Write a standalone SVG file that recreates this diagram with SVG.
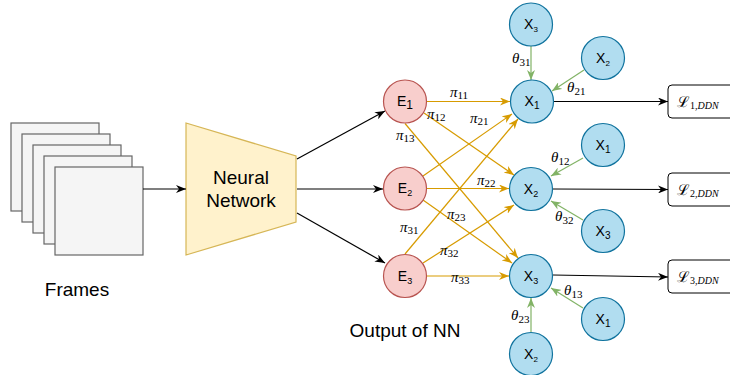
<svg xmlns="http://www.w3.org/2000/svg" width="730" height="375" viewBox="0 0 730 375">
<style>
.frame{fill:#f5f5f5;stroke:#666666;stroke-width:1.2}
.nn{fill:#fff2cc;stroke:#d6b656;stroke-width:1.2}
.e{fill:#f8cecc;stroke:#b85450;stroke-width:1.2}
.x{fill:#b1ddf0;stroke:#10739e;stroke-width:1.2}
.loss{fill:#ffffff;stroke:#000000;stroke-width:1}
.lbl{font-family:"Liberation Sans",Arial,sans-serif;fill:#000}
.math{font-family:"Liberation Serif","DejaVu Serif",serif;font-style:italic;fill:#000;font-size:15px}
.sub{font-size:11px;font-style:normal}
.blk{stroke:#000;stroke-width:1.2;fill:none}
.org{stroke:#d79b00;stroke-width:1.2;fill:none}
.grn{stroke:#82b366;stroke-width:1.2;fill:none}
</style>
<defs>
<marker id="ab" viewBox="0 0 10 8" refX="10" refY="4" markerWidth="10" markerHeight="8" markerUnits="userSpaceOnUse" orient="auto"><path d="M0,0 L10,4 L0,8 L3,4 z" fill="#000"/></marker>
<marker id="ao" viewBox="0 0 10 8" refX="10" refY="4" markerWidth="10" markerHeight="8" markerUnits="userSpaceOnUse" orient="auto"><path d="M0,0 L10,4 L0,8 L3,4 z" fill="#d79b00"/></marker>
<marker id="ag" viewBox="0 0 10 8" refX="10" refY="4" markerWidth="10" markerHeight="8" markerUnits="userSpaceOnUse" orient="auto"><path d="M0,0 L10,4 L0,8 L3,4 z" fill="#82b366"/></marker>
</defs>

<g id="frames">
<rect class="frame" x="11" y="123" width="88" height="88"/>
<rect class="frame" x="22" y="134" width="88" height="88"/>
<rect class="frame" x="33" y="145" width="88" height="88"/>
<rect class="frame" x="44" y="156" width="88" height="88"/>
<rect class="frame" x="55" y="167" width="88" height="88"/>
<text class="lbl" x="77" y="296" font-size="19" text-anchor="middle">Frames</text>
</g>

<g id="nn">
<polygon class="nn" points="186,123 296,156 296,222 186,255"/>
<text class="lbl" x="241" y="184" font-size="19" text-anchor="middle">Neural</text>
<text class="lbl" x="241" y="207" font-size="19" text-anchor="middle">Network</text>
</g>

<text class="lbl" x="405" y="337" font-size="19" text-anchor="middle">Output of NN</text>

<g id="connectors">
<line class="blk" x1="143" y1="189" x2="186" y2="189" marker-end="url(#ab)"/>
<line class="blk" x1="297" y1="159" x2="385" y2="111" marker-end="url(#ab)"/>
<line class="blk" x1="297" y1="189" x2="383" y2="189" marker-end="url(#ab)"/>
<line class="blk" x1="297" y1="213" x2="385" y2="263" marker-end="url(#ab)"/>

<line class="org" x1="427" y1="101.5" x2="510" y2="101.5" marker-end="url(#ao)"/>
<line class="org" x1="424" y1="113" x2="514" y2="175" marker-end="url(#ao)"/>
<line class="org" x1="405" y1="123.5" x2="518" y2="258" marker-end="url(#ao)"/>
<line class="org" x1="423" y1="176" x2="512" y2="114" marker-end="url(#ao)"/>
<line class="org" x1="427" y1="188.5" x2="509" y2="188.5" marker-end="url(#ao)"/>
<line class="org" x1="423" y1="200" x2="512" y2="263" marker-end="url(#ao)"/>
<line class="org" x1="405" y1="254" x2="518" y2="119" marker-end="url(#ao)"/>
<line class="org" x1="423" y1="263" x2="514" y2="205" marker-end="url(#ao)"/>
<line class="org" x1="427" y1="276" x2="509" y2="276" marker-end="url(#ao)"/>

<line class="grn" x1="531" y1="46" x2="531" y2="80" marker-end="url(#ag)"/>
<line class="grn" x1="584" y1="70" x2="552" y2="91" marker-end="url(#ag)"/>
<line class="grn" x1="583" y1="158" x2="551" y2="176" marker-end="url(#ag)"/>
<line class="grn" x1="583" y1="220" x2="551" y2="201" marker-end="url(#ag)"/>
<line class="grn" x1="583" y1="308" x2="551" y2="288" marker-end="url(#ag)"/>
<line class="grn" x1="531" y1="332" x2="531" y2="298" marker-end="url(#ag)"/>

<line class="blk" x1="554" y1="101.5" x2="668" y2="101.5" marker-end="url(#ab)"/>
<line class="blk" x1="553" y1="189" x2="668" y2="189.5" marker-end="url(#ab)"/>
<line class="blk" x1="553" y1="275" x2="668" y2="277" marker-end="url(#ab)"/>
</g>

<g id="pi-labels">
<text class="math" x="450" y="97">π<tspan class="sub" dy="2">11</tspan></text>
<text class="math" x="427" y="119">π<tspan class="sub" dy="2">12</tspan></text>
<text class="math" x="396" y="140">π<tspan class="sub" dy="2">13</tspan></text>
<text class="math" x="470" y="123">π<tspan class="sub" dy="2">21</tspan></text>
<text class="math" x="477" y="185">π<tspan class="sub" dy="2">22</tspan></text>
<text class="math" x="447" y="219">π<tspan class="sub" dy="2">23</tspan></text>
<text class="math" x="400" y="232">π<tspan class="sub" dy="2">31</tspan></text>
<text class="math" x="440" y="255">π<tspan class="sub" dy="2">32</tspan></text>
<text class="math" x="451" y="282">π<tspan class="sub" dy="2">33</tspan></text>
</g>

<g id="theta-labels">
<text class="math" x="512" y="63">θ<tspan class="sub" dy="3">31</tspan></text>
<text class="math" x="567" y="92">θ<tspan class="sub" dy="3">21</tspan></text>
<text class="math" x="551" y="162">θ<tspan class="sub" dy="3">12</tspan></text>
<text class="math" x="555" y="221">θ<tspan class="sub" dy="3">32</tspan></text>
<text class="math" x="564" y="295">θ<tspan class="sub" dy="3">13</tspan></text>
<text class="math" x="511" y="320">θ<tspan class="sub" dy="3">23</tspan></text>
</g>

<g id="E1"><circle class="e" cx="405" cy="101.5" r="21.5"/><text class="lbl" x="405" y="106" font-size="14" text-anchor="middle">E<tspan font-size="12" dy="3">1</tspan></text></g>
<g id="E2"><circle class="e" cx="405" cy="188.5" r="21.5"/><text class="lbl" x="405" y="193" font-size="14" text-anchor="middle">E<tspan font-size="9" dy="3">2</tspan></text></g>
<g id="E3"><circle class="e" cx="405" cy="276" r="21.5"/><text class="lbl" x="405" y="280.5" font-size="14" text-anchor="middle">E<tspan font-size="9" dy="3">3</tspan></text></g>

<g id="X1"><circle class="x" cx="532" cy="101.5" r="21.5"/><text class="lbl" x="532" y="106" font-size="14" text-anchor="middle">X<tspan font-size="10" dy="3">1</tspan></text></g>
<g id="X2"><circle class="x" cx="531" cy="189" r="21.5"/><text class="lbl" x="531" y="193.5" font-size="14" text-anchor="middle">X<tspan font-size="9" dy="3">2</tspan></text></g>
<g id="X3"><circle class="x" cx="531" cy="276" r="21.5"/><text class="lbl" x="531" y="280.5" font-size="14" text-anchor="middle">X<tspan font-size="9" dy="3">3</tspan></text></g>

<g id="X3-top"><circle class="x" cx="531" cy="24.5" r="21.5"/><text class="lbl" x="531" y="29" font-size="14" text-anchor="middle">X<tspan font-size="8" dy="3">3</tspan></text></g>
<g id="X2-top"><circle class="x" cx="603" cy="58" r="21.5"/><text class="lbl" x="603" y="62.5" font-size="14" text-anchor="middle">X<tspan font-size="8" dy="3">2</tspan></text></g>
<g id="X1-mid"><circle class="x" cx="603" cy="145" r="21.5"/><text class="lbl" x="603" y="149.5" font-size="14" text-anchor="middle">X<tspan font-size="10" dy="3">1</tspan></text></g>
<g id="X3-mid"><circle class="x" cx="603" cy="231" r="21.5"/><text class="lbl" x="603" y="235.5" font-size="14" text-anchor="middle">X<tspan font-size="10" dy="3">3</tspan></text></g>
<g id="X1-bot"><circle class="x" cx="603" cy="319" r="21.5"/><text class="lbl" x="603" y="323.5" font-size="14" text-anchor="middle">X<tspan font-size="10" dy="3">1</tspan></text></g>
<g id="X2-bot"><circle class="x" cx="531" cy="354" r="21.5"/><text class="lbl" x="531" y="358.5" font-size="14" text-anchor="middle">X<tspan font-size="8" dy="3">2</tspan></text></g>

<g id="L1"><rect class="loss" x="668" y="85" width="75" height="33" rx="4"/><text x="677" y="107" font-family="'DejaVu Serif',serif" font-size="15">ℒ<tspan font-family="'Liberation Serif',serif" font-size="10" dy="2">1,</tspan><tspan font-family="'Liberation Serif',serif" font-style="italic" font-size="10">DDN</tspan></text></g>
<g id="L2"><rect class="loss" x="668" y="173" width="75" height="33" rx="4"/><text x="677" y="195" font-family="'DejaVu Serif',serif" font-size="15">ℒ<tspan font-family="'Liberation Serif',serif" font-size="10" dy="2">2,</tspan><tspan font-family="'Liberation Serif',serif" font-style="italic" font-size="10">DDN</tspan></text></g>
<g id="L3"><rect class="loss" x="668" y="260" width="75" height="33" rx="4"/><text x="677" y="282" font-family="'DejaVu Serif',serif" font-size="15">ℒ<tspan font-family="'Liberation Serif',serif" font-size="10" dy="2">3,</tspan><tspan font-family="'Liberation Serif',serif" font-style="italic" font-size="10">DDN</tspan></text></g>
</svg>
